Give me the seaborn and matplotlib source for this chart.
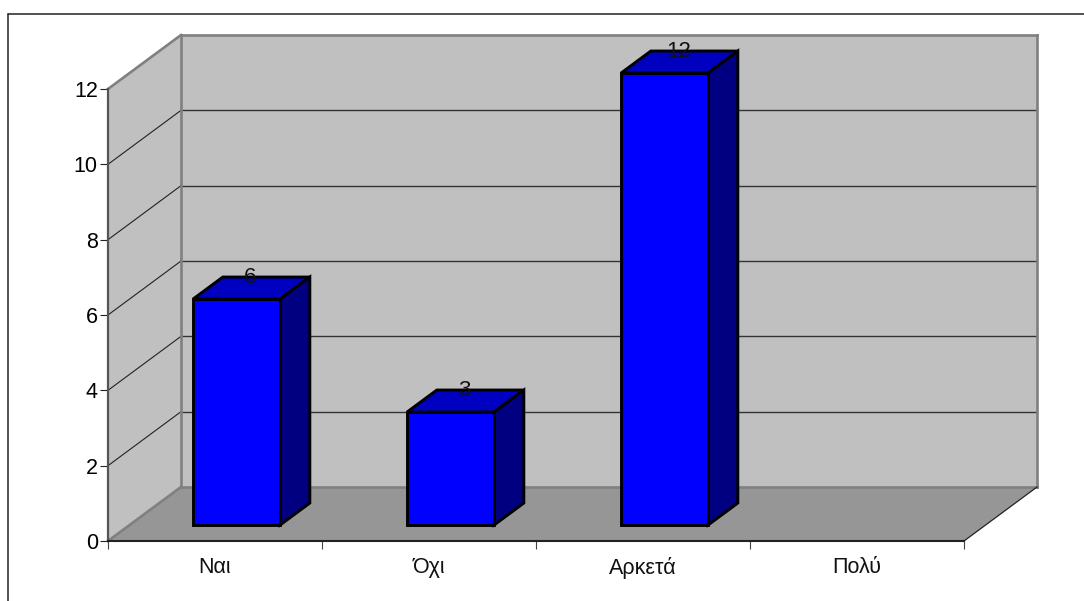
import numpy as np
import pandas as pd
import matplotlib
matplotlib.use("Agg")
import matplotlib.pyplot as plt
from matplotlib.lines import Line2D
import seaborn as sns

# Survey responses
categories = ["Ναι", "Όχι", "Αρκετά", "Πολύ"]
counts = [6, 3, 12, np.nan]
y_ticks = [0, 2, 4, 6, 8, 10, 12]

sns.set_theme(style="white")
plt.rcParams["font.family"] = ["Liberation Sans", "DejaVu Sans"]

W, H = 1084, 601
fig = plt.figure(figsize=(W / 100, H / 100), dpi=100, facecolor="white")
ax = fig.add_axes([108 / W, 1 - 541 / H, (964 - 108) / W, (541 - 89) / H])
ax.set_facecolor("none")

# Oblique depth of the chart box, in data units
DX = 73 / 214
DY = 54 / 37.67
X_MAX = len(categories)
Y_MAX = 12


def proj(x, y, d):
    return x + d * DX, y + d * DY


def face(points, **kw):
    xs, ys = zip(*[proj(*p) for p in points])
    ax.fill(xs, ys, clip_on=False, **kw)


def edge(p, q, **kw):
    (x0, y0), (x1, y1) = proj(*p), proj(*q)
    ax.plot([x0, x1], [y0, y1], clip_on=False, solid_capstyle="projecting", **kw)


WALL = "#c0c0c0"
FLOOR = "#969696"
BORDER = "#808080"
GRID = "#333333"

# Back wall, side wall, floor
face([(0, 0, 1), (X_MAX, 0, 1), (X_MAX, Y_MAX, 1), (0, Y_MAX, 1)], color=WALL, lw=0, zorder=1)
face([(0, 0, 0), (0, 0, 1), (0, Y_MAX, 1), (0, Y_MAX, 0)], color=WALL, lw=0, zorder=1)
face([(0, 0, 0), (X_MAX, 0, 0), (X_MAX, 0, 1), (0, 0, 1)], color=FLOOR, lw=0, zorder=1)

# Gridlines run along the side wall and across the back wall
for v in y_ticks[1:-1]:
    edge((0, v, 0), (0, v, 1), color="#222222", lw=0.8, zorder=2)
    edge((0, v, 1), (X_MAX, v, 1), color=GRID, lw=1.0, zorder=2)

# Box outline
for p, q in [
    ((0, 0, 1), (0, Y_MAX, 1)),
    ((0, Y_MAX, 1), (X_MAX, Y_MAX, 1)),
    ((X_MAX, 0, 1), (X_MAX, Y_MAX, 1)),
    ((0, 0, 1), (X_MAX, 0, 1)),
    ((0, 0, 0), (0, 0, 1)),
    ((0, Y_MAX, 0), (0, Y_MAX, 1)),
]:
    edge(p, q, color=BORDER, lw=1.9, zorder=3)
edge((X_MAX, 0, 0), (X_MAX, 0, 1), color="#222222", lw=0.9, zorder=3)

# Column geometry inside the depth of the box
D0, D1 = 0.296, 0.703
BAR_W = 87 / 214
EDGE = dict(edgecolor="black", linewidth=2.1, joinstyle="miter")

df = pd.DataFrame({"category": categories, "count": counts})
df["slot"] = np.arange(len(df)) + 0.5
df["pos"] = df["slot"] + D0 * DX
base = D0 * DY

sns.barplot(
    data=df.dropna(), x="pos", y="count", native_scale=True, ax=ax, width=BAR_W,
    color="#0000ff", saturation=1, bottom=base, zorder=6, clip_on=False, **EDGE,
)

for _, row in df.dropna().iterrows():
    xl, xr = row["slot"] - BAR_W / 2, row["slot"] + BAR_W / 2
    top = row["count"]
    xl += D0 * DX
    xr += D0 * DX
    y0, y1 = base, base + top
    dd = D1 - D0
    # Top and right faces of the column
    xs = [xl, xr, xr + dd * DX, xl + dd * DX]
    ys = [y1, y1, y1 + dd * DY, y1 + dd * DY]
    ax.fill(xs, ys, facecolor="#0000c0", clip_on=False, zorder=5, **EDGE)
    xs = [xr, xr + dd * DX, xr + dd * DX, xr]
    ys = [y0, y0 + dd * DY, y1 + dd * DY, y1]
    ax.fill(xs, ys, facecolor="#000080", clip_on=False, zorder=5, **EDGE)
    ax.annotate(f"{int(top)}", (row["slot"] + (D0 + dd / 2) * DX - 0.005, y1 + dd * DY),
                xytext=(0, -0.5), textcoords="offset points",
                ha="center", va="center", fontsize=16, color="#111111",
                zorder=7, annotation_clip=False)

# Axes, ticks and labels
ax.set_xlim(0, X_MAX)
ax.set_ylim(0, Y_MAX)
ax.set_xlabel("")
ax.set_ylabel("")
ax.set_yticks(y_ticks)
ax.set_xticks(range(X_MAX + 1), [""] * (X_MAX + 1))
ax.set_xticks(df["slot"], categories, minor=True)
ax.tick_params(axis="y", which="major", left=True, length=5.8, width=0.8, color="#222222",
               labelsize=15.5, pad=1.5, labelcolor="black")
ax.tick_params(axis="x", which="major", bottom=True, length=5.8, width=0.8, color="#444444")
ax.tick_params(axis="x", which="minor", bottom=False, length=0, labelsize=15.5, pad=11.5,
               labelcolor="#111111")
for side in ("top", "right"):
    ax.spines[side].set_visible(False)
ax.spines["left"].set(color="#555555", linewidth=1.6, zorder=4)
ax.spines["bottom"].set(color="#222222", linewidth=1.5, zorder=4)

# Chart area frame, open along the right and bottom
frame = dict(color="#222222", lw=1.1, transform=fig.transFigure)
fig.add_artist(Line2D([8 / W, 8 / W], [0, 1 - 14 / H], **frame))
fig.add_artist(Line2D([8 / W, 1], [1 - 14 / H, 1 - 14 / H], **frame))

fig.savefig("out.png", dpi=100, facecolor="white")
